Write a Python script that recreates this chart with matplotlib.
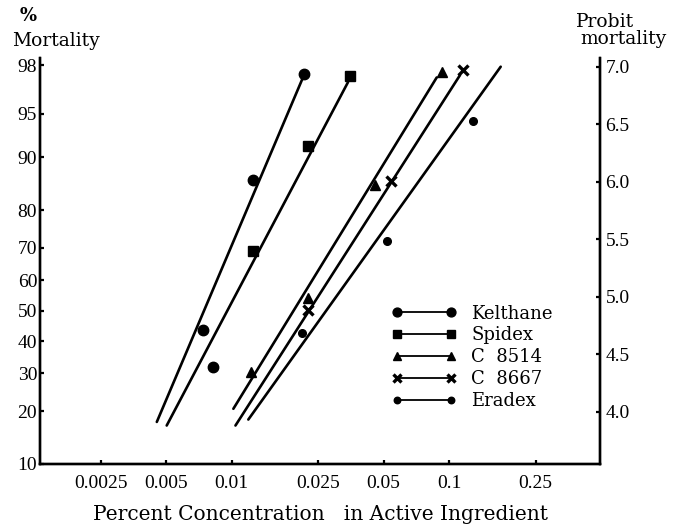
import matplotlib.pyplot as plt
from matplotlib.lines import Line2D
from statistics import NormalDist

plt.rcParams['font.family'] = ['Liberation Serif', 'DejaVu Serif']

LABEL_FONT = ['DejaVu Serif']


def probit(p):
    return NormalDist().inv_cdf(p / 100.0) + 5.0


# observed mortality (%) against concentration (% active ingredient)
kel_conc = [0.00741, 0.00824, 0.0125, 0.0215]
kel_mort = [43.6, 31.8, 86.3, 97.6]
spi_conc = [0.01254, 0.0224, 0.0351]
spi_mort = [69.0, 91.6, 97.5]
c8514_conc = [0.01225, 0.0224, 0.0457, 0.0925]
c8514_mort = [30.5, 54.1, 85.3, 97.7]
c8667_conc = [0.0225, 0.0541, 0.1156]
c8667_mort = [50.2, 86.0, 97.8]
era_conc = [0.0211, 0.0517, 0.1293]
era_mort = [42.7, 72.1, 94.4]

# fitted probit regression lines (end points)
kel_fit_conc = [0.00453, 0.0213]
kel_fit_probit = [4.07, 6.95]
spi_fit_conc = [0.00503, 0.0343]
spi_fit_probit = [4.04, 6.91]
c8514_fit_conc = [0.01019, 0.0878]
c8514_fit_probit = [4.18, 6.95]
c8667_fit_conc = [0.01042, 0.1124]
c8667_fit_probit = [4.04, 6.97]
era_fit_conc = [0.01194, 0.1729]
era_fit_probit = [4.09, 7.04]

# axis ticks
x_ticks = [0.0025, 0.005, 0.01, 0.025, 0.05, 0.1, 0.25]
x_labels = ['0.0025', '0.005', '0.01', '0.025', '0.05', '0.1', '0.25']
pct_ticks = [10, 20, 30, 40, 50, 60, 70, 80, 90, 95, 98]
probit_ticks = [4.0, 4.5, 5.0, 5.5, 6.0, 6.5, 7.0]

series = [
    ('Kelthane', kel_conc, kel_mort, kel_fit_conc, kel_fit_probit,
     dict(marker='o', ms=7.5)),
    ('Spidex', spi_conc, spi_mort, spi_fit_conc, spi_fit_probit,
     dict(marker='s', ms=6.5)),
    ('C  8514', c8514_conc, c8514_mort, c8514_fit_conc, c8514_fit_probit,
     dict(marker='^', ms=7.5)),
    ('C  8667', c8667_conc, c8667_mort, c8667_fit_conc, c8667_fit_probit,
     dict(marker='x', ms=6.5, mew=2.4)),
    ('Eradex', era_conc, era_mort, era_fit_conc, era_fit_probit,
     dict(marker='o', ms=5.5)),
]

fig = plt.figure(figsize=(6.76, 5.29), dpi=100)
ax = fig.add_axes([0.0592, 0.1229, 0.8284, 0.7675])

handles = []
for name, conc, mort, fc, fp, mk in series:
    ax.plot(fc, fp, color='black', lw=1.9, solid_capstyle='round')
    ax.plot(conc, [probit(m) for m in mort], ls='none', color='black',
            mfc='black', mec='black', **mk)
    small = dict(mk)
    small['ms'] = mk['ms'] * 0.85
    handles.append(Line2D([0], [0], color='black', lw=1.3,
                          mfc='black', mec='black', label=name, **small))

ax.set_xscale('log')
ax.set_xlim(0.001315, 0.495)
ax.set_ylim(probit(10), 7.113)
ax.set_xticks(x_ticks)
ax.set_xticklabels(x_labels)
ax.minorticks_off()
ax.set_yticks([probit(p) for p in pct_ticks])
ax.set_yticklabels([str(p) for p in pct_ticks])

ax2 = ax.twinx()
ax2.set_ylim(3.548, 7.078)
ax2.set_yticks(probit_ticks)
ax2.set_yticklabels(['%.1f' % t for t in probit_ticks])

for a in (ax, ax2):
    a.spines['top'].set_visible(False)
    for s in ('left', 'right', 'bottom'):
        a.spines[s].set_linewidth(1.7)

ax.tick_params(axis='both', direction='in', length=3, width=1.6,
               labelsize=14, pad=2)
ax.tick_params(axis='x', pad=8)
ax2.tick_params(axis='y', direction='in', length=3, width=1.6,
                labelsize=14, pad=4)

ax.set_xlabel('Percent Concentration   in Active Ingredient',
              family=LABEL_FONT, fontsize=14.5, labelpad=9)

fig.text(0.042, 0.970, '%', family=LABEL_FONT, fontsize=13,
         fontweight='bold', ha='center', va='center')
fig.text(0.083, 0.923, 'Mortality', family=LABEL_FONT, fontsize=13.5,
         ha='center', va='center')
fig.text(0.895, 0.958, 'Probit', family=LABEL_FONT, fontsize=13.5,
         ha='center', va='center')
fig.text(0.923, 0.927, 'mortality', family=LABEL_FONT, fontsize=13.5,
         ha='center', va='center')

leg = ax.legend(handles=handles, loc='upper left',
                bbox_to_anchor=(0.612, 0.415), frameon=False, numpoints=2,
                handlelength=3.6, handletextpad=0.8, labelspacing=0.22,
                borderpad=0, prop={'family': LABEL_FONT, 'size': 13})

fig.savefig('out.png', dpi=100)
